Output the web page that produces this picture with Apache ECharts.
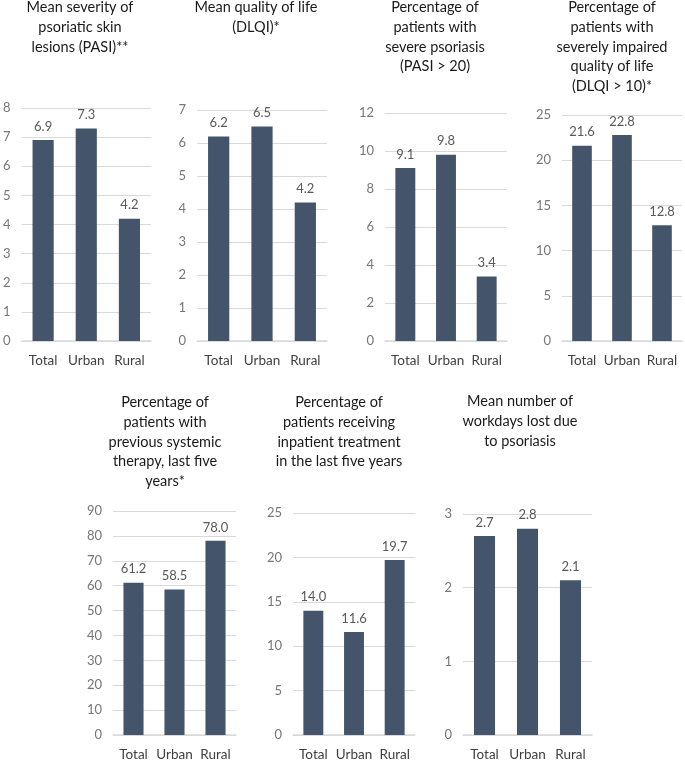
<!DOCTYPE html>
<html><head><meta charset="utf-8">
<script src="https://cdn.jsdelivr.net/npm/echarts@6/dist/echarts.min.js"></script>
<style>html,body{margin:0;padding:0;background:#fff}#c{width:685px;height:762px}</style>
</head><body><div id="c"></div>
<script>
const categories = ['Total', 'Urban', 'Rural'];

const titles = [
  'Mean severity of\npsoriatic skin\nlesions (PASI)**',
  'Mean quality of life\n(DLQI)*',
  'Percentage of\npatients with\nsevere psoriasis\n(PASI > 20)',
  'Percentage of\npatients with\nseverely impaired\nquality of life\n(DLQI > 10)*',
  'Percentage of\npatients with\nprevious systemic\ntherapy, last five\nyears*',
  'Percentage of\npatients receiving\ninpatient treatment\nin the last five years',
  'Mean number of\nworkdays lost due\nto psoriasis'
];

const pasiMean      = [6.9, 7.3, 4.2];
const dlqiMean      = [6.2, 6.5, 4.2];
const severePasi    = [9.1, 9.8, 3.4];
const severeDlqi    = [21.6, 22.8, 12.8];
const systemicTher  = [61.2, 58.5, 78.0];
const inpatient     = [14.0, 11.6, 19.7];
const workdaysLost  = [2.7, 2.8, 2.1];

const seriesValues = [pasiMean, dlqiMean, severePasi, severeDlqi, systemicTher, inpatient, workdaysLost];
const axisMax      = [8, 7, 12, 25, 90, 25, 3];
const axisInterval = [1, 1, 2, 5, 10, 5, 1];

// layout (px)
const grids = [
  {left: 21,  top: 108, width: 130, height: 233},
  {left: 197, top: 110, width: 130, height: 231},
  {left: 385, top: 113, width: 122, height: 228},
  {left: 562, top: 115, width: 120, height: 226},
  {left: 113, top: 511, width: 123, height: 226},
  {left: 293, top: 513, width: 122, height: 224},
  {left: 463, top: 514, width: 129, height: 223}
];
const titlePos = [
  {x: 80,  y: -2}, {x: 256, y: -2}, {x: 435, y: -2}, {x: 612, y: -2},
  {x: 165, y: 393}, {x: 339, y: 393}, {x: 520, y: 392}
];

const FONT = 'Lato';
const chart = echarts.init(document.getElementById('c'), null, {renderer: 'canvas'});
chart.setOption({
  animation: false,
  backgroundColor: '#ffffff',
  graphic: titles.map((t, i) => ({
    type: 'text', x: titlePos[i].x, y: titlePos[i].y, silent: true,
    style: {text: t, align: 'center', verticalAlign: 'top',
      fontFamily: FONT, fontSize: 14.5, fontWeight: 'normal', fill: '#1a1a1a', lineHeight: 19.6}
  })),
  grid: grids.map(g => Object.assign({containLabel: false}, g)),
  xAxis: grids.map((g, i) => ({
    type: 'category', gridIndex: i, data: categories,
    axisTick: {show: false},
    axisLine: {show: true, lineStyle: {color: '#d9d9d9', width: 1.5}},
    axisLabel: {fontFamily: FONT, fontSize: 13.5, color: '#404040', margin: 13, interval: 0}
  })),
  yAxis: grids.map((g, i) => ({
    type: 'value', gridIndex: i, min: 0, max: axisMax[i], interval: axisInterval[i],
    axisLine: {show: false}, axisTick: {show: false},
    splitLine: {lineStyle: {color: '#d9d9d9', width: 1.2}},
    axisLabel: {fontFamily: FONT, fontSize: 13, color: '#767676', margin: 11}
  })),
  series: seriesValues.map((vals, i) => ({
    type: 'bar', xAxisIndex: i, yAxisIndex: i, data: vals,
    barCategoryGap: '51%',
    itemStyle: {color: '#44546a'},
    label: {show: true, position: 'top', distance: 7, fontFamily: FONT, fontSize: 13, color: '#595959',
      formatter: p => p.value.toFixed(1)}
  }))
});
</script></body></html>
